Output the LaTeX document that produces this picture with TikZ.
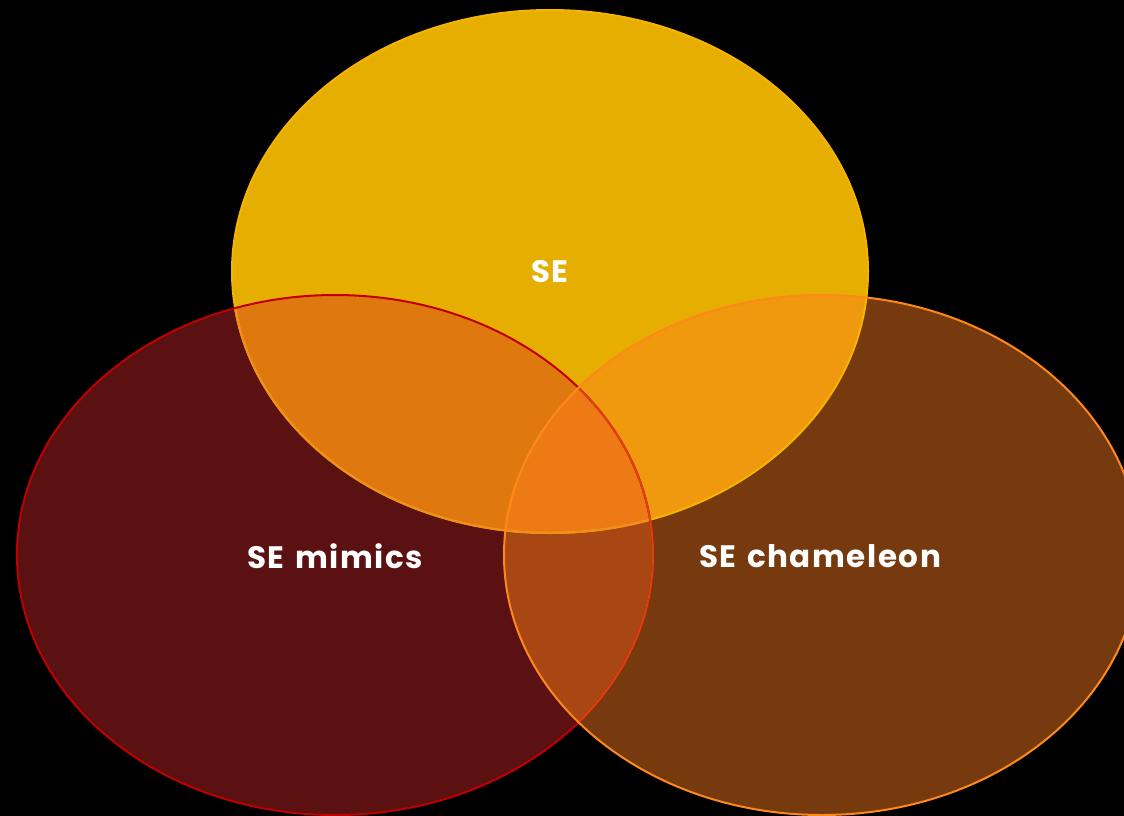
\documentclass[tikz,border=0pt]{standalone}
\usepackage{fontspec}
\setmainfont{Poppins}[LetterSpace=5,WordSpace=1.3]
\definecolor{cT}{RGB}{230,174,0}
\definecolor{cL}{RGB}{91,17,17}
\definecolor{cR}{RGB}{118,58,14}
\definecolor{cTL}{RGB}{224,120,16}
\definecolor{cTR}{RGB}{240,152,14}
\definecolor{cLR}{RGB}{168,70,20}
\definecolor{cTLR}{RGB}{238,122,22}
\definecolor{oT}{RGB}{245,180,0}
\definecolor{oTinL}{RGB}{240,144,26}
\definecolor{oL}{RGB}{192,0,0}
\definecolor{oLinR}{RGB}{224,64,16}
\definecolor{oR}{RGB}{255,136,26}
\tikzset{
  lbl/.style={text=white,font=\fontsize{31}{37}\selectfont\bfseries,inner sep=0pt},
  edge/.style={line width=2pt}
}
\def\Tell{(550pt,-271.5pt) ellipse [x radius=318pt, y radius=261.5pt]}
\def\Lell{(335pt,-555pt) ellipse [x radius=318pt, y radius=260pt]}
\def\Rell{(822pt,-555pt) ellipse [x radius=318pt, y radius=260pt]}
\begin{document}
\begin{tikzpicture}[x=1pt,y=-1pt]
\fill[black] (0,0) rectangle (1124,816);
\useasboundingbox (0,0) rectangle (1124,816);
\clip (0,0) rectangle (1124,816);
% base fills
\fill[cT] \Tell;
\fill[cL] \Lell;
\fill[cR] \Rell;
% overlaps
\begin{scope}\clip \Tell; \fill[cTL] \Lell; \end{scope}
\begin{scope}\clip \Tell; \fill[cTR] \Rell; \end{scope}
\begin{scope}\clip \Lell; \fill[cLR] \Rell; \end{scope}
\begin{scope}\clip \Tell; \clip \Lell; \fill[cTLR] \Rell; \end{scope}
% outlines
\draw[edge,oT] \Tell;
\begin{scope}\clip \Lell; \draw[edge,oTinL] \Tell; \end{scope}
\draw[edge,oL] \Lell;
\begin{scope}\clip \Rell; \draw[edge,oLinR] \Lell; \end{scope}
\draw[edge,oR] \Rell;
% labels
\node[lbl] (se) at (550,272) {SE};
\node[lbl] (mim) at (335,556) {SE mimics};
\node[lbl] (cha) at (820,556) {SE chameleon};
\end{tikzpicture}
\end{document}
